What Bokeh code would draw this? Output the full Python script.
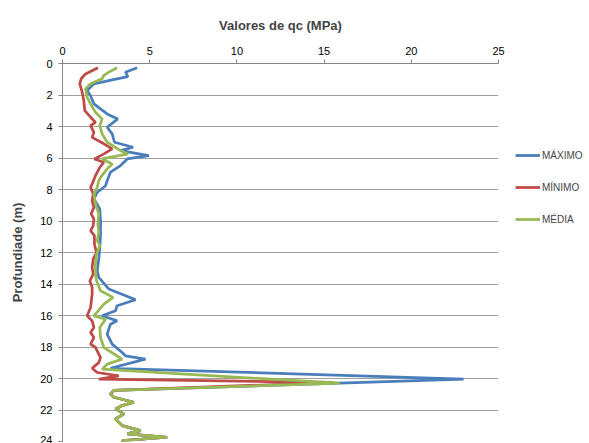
from bokeh.plotting import figure
from bokeh.models import Range1d, FixedTicker, Legend, LegendItem
from bokeh.layouts import row
from bokeh.embed import file_html
from bokeh.resources import INLINE

# ---- data ----
tail_depth = [20.75, 20.98, 21.19, 21.51, 21.72, 21.93, 22.25, 22.57, 22.99, 23.31, 23.52, 23.73, 23.94, 24.2]
tail_qc = [2.94, 2.75, 2.94, 4.09, 3.42, 3.04, 3.52, 3.04, 3.42, 4.47, 3.71, 6.0, 3.42, 3.6]

depth_max = [0.27, 0.55, 0.83, 1.04, 1.29, 1.72, 2.03, 2.56, 3.2, 3.52, 4.05, 4.47, 5.0, 5.32,
             5.53, 5.85, 6.06, 6.48, 6.9, 7.44, 7.76, 8.18, 8.6, 9.24, 9.98, 10.83, 11.68, 12.42,
             13.16, 13.58, 14.32, 15.0, 15.38, 15.7, 16.02, 16.34, 16.55, 17.18, 17.82, 18.35,
             18.56, 18.77, 19.35, 20.04, 20.3]
qc_max = [4.28, 3.61, 3.75, 2.85, 1.80, 1.41, 1.6, 1.8, 2.56, 3.17, 2.56, 2.85, 2.98, 4.05,
          3.33, 4.95, 3.71, 3.33, 2.75, 2.56, 2.47, 1.99, 1.8, 2.14, 2.18, 2.18, 2.14, 2.08,
          1.99, 2.08, 2.66, 4.19, 3.13, 3.04, 2.27, 3.13, 2.75, 2.56, 2.85, 3.42,
          3.61, 4.76, 2.75, 23.0, 15.9]

depth_min = [0.27, 0.66, 0.97, 1.29, 1.82, 2.35, 2.99, 3.41, 3.73, 3.94, 4.37, 4.69, 5.1, 5.42,
             5.74, 6.06, 6.27, 6.59, 7.12, 7.65, 7.86, 8.28, 8.71, 9.14, 9.55, 9.87, 10.3, 10.62,
             10.93, 11.46, 12.0, 12.42, 12.95, 13.37, 13.8, 14.22, 14.64, 15.49, 16.02, 16.34,
             16.76, 17.08, 17.4, 17.82, 18.03, 18.67, 18.99, 19.35, 19.62, 19.83, 20.04, 20.25]
qc_min = [2.03, 1.32, 1.07, 0.99, 1.13, 1.22, 1.28, 1.61, 1.89, 1.61, 1.8, 1.7, 2.37, 2.85,
          2.37, 1.83, 2.37, 2.14, 1.89, 1.7, 1.61, 1.76, 1.7, 1.8, 1.64, 1.8, 1.76, 1.61,
          1.83, 1.83, 1.95, 1.76, 1.7, 1.76, 1.57, 1.7, 1.7, 1.61, 1.41, 1.7,
          1.8, 1.61, 1.8, 1.61, 1.89, 2.18, 2.08, 1.7, 1.99, 3.23, 2.08, 15.5]

depth_med = [0.27, 0.55, 0.76, 0.97, 1.29, 1.61, 2.14, 2.56, 3.1, 3.52, 3.94, 4.47, 5.0, 5.53,
             5.74, 6.06, 6.38, 6.69, 7.23, 7.44, 7.86, 8.28, 8.92, 9.55, 10.19, 10.72, 11.25,
             11.57, 12.1, 12.73, 13.37, 13.8, 14.43, 14.85, 15.28, 16.02, 16.23, 16.76, 17.4,
             18.03, 18.77, 19.09, 19.41, 20.3]
qc_med = [3.13, 2.66, 2.37, 2.27, 1.61, 1.32, 1.41, 1.61, 1.89, 2.27, 2.14, 2.27, 2.56, 3.33,
          3.75, 2.27, 2.85, 2.56, 2.18, 2.08, 1.99, 1.8, 1.89, 2.08, 2.03, 2.08, 1.99,
          2.14, 1.95, 1.89, 1.89, 1.95, 2.18, 2.9, 2.37, 1.8, 2.47, 2.14, 2.18,
          2.37, 3.42, 2.56, 2.27, 15.9]

series_names = ["MÁXIMO", "MÍNIMO", "MÉDIA"]
x_ticks = [0, 5, 10, 15, 20, 25]
y_ticks = [0, 2, 4, 6, 8, 10, 12, 14, 16, 18, 20, 22, 24]

colors = ["#4A7EBB", "#BE4B48", "#98B954"]
FONT = "Liberation Sans"
AX = "#868686"
LW = 2.75

p = figure(width=512, height=443, output_backend="svg", toolbar_location=None,
           x_range=Range1d(0, 25), y_range=Range1d(24, 0), x_axis_location="above",
           min_border_left=62, min_border_right=14, min_border_top=63, min_border_bottom=2)

p.title.text = "Valores de qc (MPa)"
p.title.align = "center"
p.title.offset = -8
p.title.standoff = 22
p.title.text_font = FONT
p.title.text_font_size = "13px"
p.title.text_font_style = "bold"

for ax, ticks in ((p.xaxis, x_ticks), (p.yaxis, y_ticks)):
    ax.ticker = FixedTicker(ticks=ticks)
    ax.axis_line_color = AX
    ax.major_tick_line_color = AX
    ax.major_tick_out = 4
    ax.major_tick_in = 0
    ax.minor_tick_line_color = None
    ax.major_label_text_font = FONT
    ax.major_label_text_font_size = "11px"
    ax.major_label_text_color = "#000000"

p.xaxis.major_label_standoff = 5
p.yaxis.major_label_standoff = 6
p.yaxis.axis_label = "Profundiade (m)"
p.yaxis.axis_label_text_font = FONT
p.yaxis.axis_label_text_font_size = "13px"
p.yaxis.axis_label_text_font_style = "bold"
p.yaxis.axis_label_standoff = 12

p.xgrid.grid_line_color = None
p.ygrid.ticker = FixedTicker(ticks=y_ticks)
p.ygrid.grid_line_color = "#a0a0a0"
p.ygrid.grid_line_width = 1
p.outline_line_color = None

p.line(qc_max + tail_qc, depth_max + tail_depth, line_color=colors[0], line_width=LW)
p.line(qc_min + tail_qc, depth_min + tail_depth, line_color=colors[1], line_width=LW)
p.line(qc_med + tail_qc, depth_med + tail_depth, line_color=colors[2], line_width=LW)

# legend panel (separate narrow figure to the right of the chart)
pl = figure(width=77, height=443, output_backend="svg", toolbar_location=None,
            x_range=Range1d(0, 1), y_range=Range1d(0, 1),
            x_axis_type=None, y_axis_type=None, min_border=0)
pl.grid.visible = False
pl.outline_line_color = None
items = []
for name, c in zip(series_names, colors):
    # proxy line kept outside the visible range; only its legend swatch shows
    r = pl.line([5, 6], [5, 6], line_color=c, line_width=LW)
    items.append(LegendItem(label=name, renderers=[r]))

legend = Legend(items=items, location=(3, 212), padding=0, margin=0, spacing=12,
                glyph_width=25, glyph_height=20, label_height=20, label_standoff=2,
                label_text_font=FONT, label_text_font_size="10px",
                border_line_color=None, background_fill_alpha=0)
pl.add_layout(legend, "center")

layout = row(p, pl)
open("out.html", "w").write(file_html(layout, INLINE))
